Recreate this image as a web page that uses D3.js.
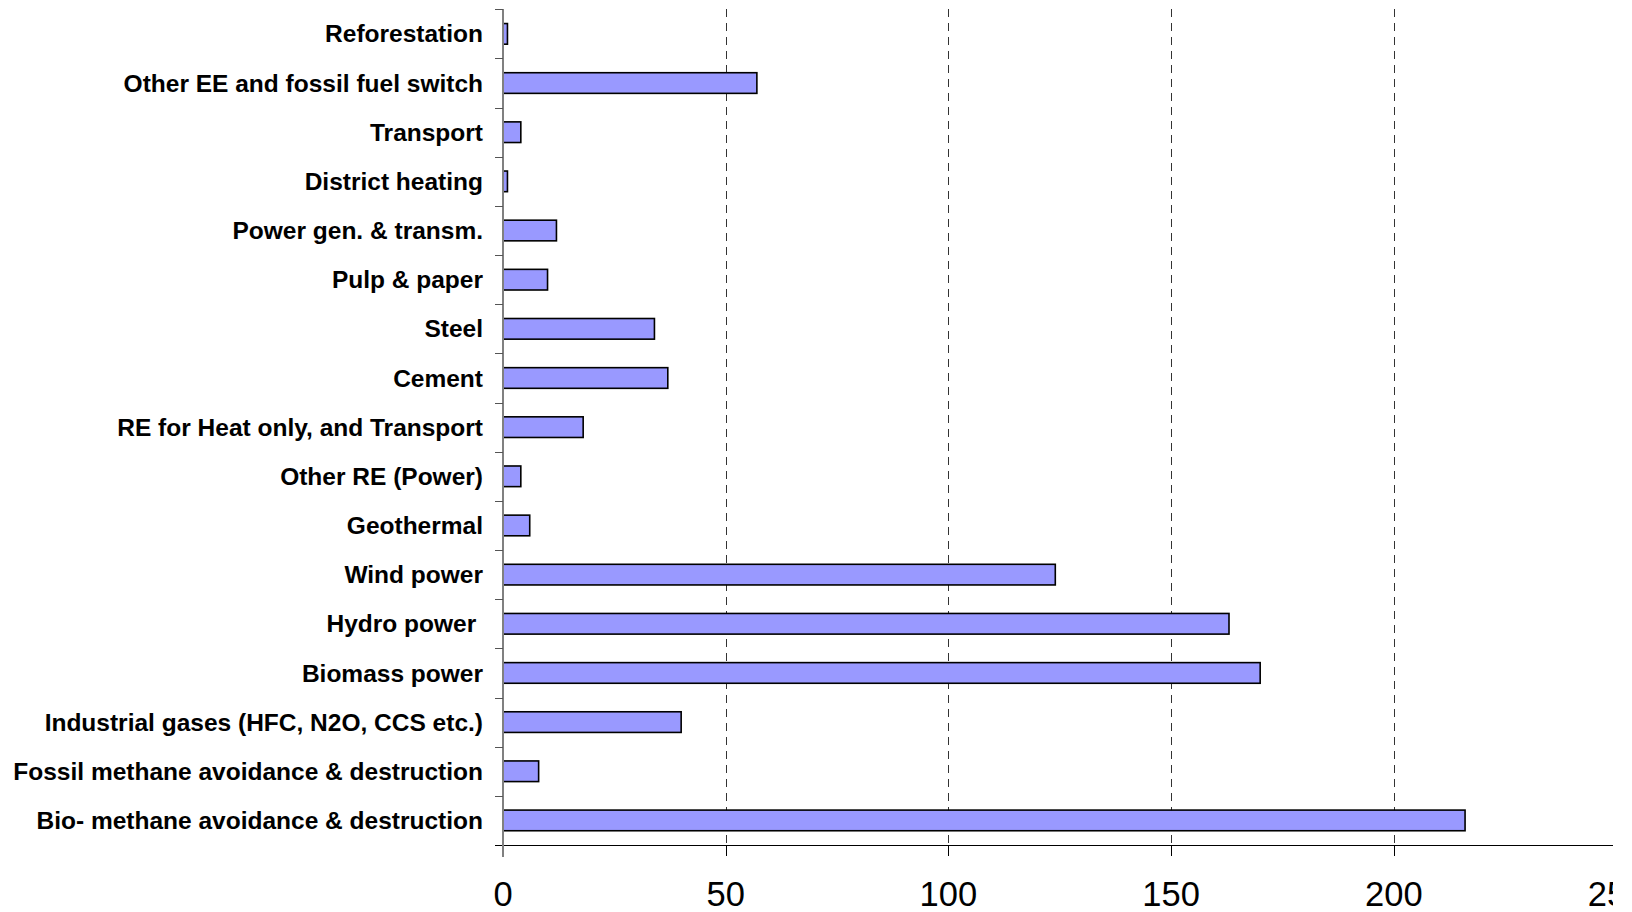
<!DOCTYPE html>
<html>
<head>
<meta charset="utf-8">
<script src="https://cdn.jsdelivr.net/npm/d3@7"></script>
<style>
  html, body { margin: 0; padding: 0; background: #fff; }
  svg { display: block; }
  .cat { font-family: "Liberation Sans", Arial, sans-serif; font-weight: bold; font-size: 24.5px; fill: #000; white-space: pre; }
  .tick-label { font-family: "Liberation Sans", Arial, sans-serif; font-size: 34.5px; fill: #000; }
</style>
</head>
<body>
<svg id="chart" width="1632" height="912"></svg>
<script>
// Project categories, top to bottom
const categories = [
  "Reforestation",
  "Other EE and fossil fuel switch",
  "Transport",
  "District heating",
  "Power gen. & transm.",
  "Pulp & paper",
  "Steel",
  "Cement",
  "RE for Heat only, and Transport",
  "Other RE (Power)",
  "Geothermal",
  "Wind power",
  "Hydro power ",
  "Biomass power",
  "Industrial gases (HFC, N2O, CCS etc.)",
  "Fossil methane avoidance & destruction",
  "Bio- methane avoidance & destruction"
];

// Value per category
const values = [1, 57, 4, 1, 12, 10, 34, 37, 18, 4, 6, 124, 163, 170, 40, 8, 216];

// X-axis ticks
const xTicks = [0, 50, 100, 150, 200, 250];

const svg = d3.select("#chart");

// The drawing area ends just past the last gridline; anything beyond is clipped
svg.append("defs").append("clipPath").attr("id", "plotClip")
  .append("rect").attr("x", 0).attr("y", 0).attr("width", 1613).attr("height", 912);

const root = svg.append("g").attr("clip-path", "url(#plotClip)");

const x = d3.scaleLinear().domain([0, 250]).range([503, 1616.5]);
const y = d3.scaleBand().domain(categories).range([9.3, 845]).paddingInner(0.58).paddingOuter(0.29);
const yStep = d3.scaleBand().domain(categories).range([9.3, 845]).padding(0);

// Dashed vertical gridlines
root.append("g")
  .selectAll("line")
  .data(xTicks.filter(d => d > 0 && d < 250))
  .join("line")
  .attr("x1", d => Math.round(x(d)) + 0.5)
  .attr("x2", d => Math.round(x(d)) + 0.5)
  .attr("y1", 9)
  .attr("y2", 845)
  .attr("stroke", "#333")
  .attr("stroke-width", 1)
  .attr("stroke-dasharray", "8,6");

// Bars
root.append("g")
  .selectAll("rect")
  .data(categories.map((c, i) => ({ c, v: values[i] })))
  .join("rect")
  .attr("x", x(0))
  .attr("y", d => y(d.c))
  .attr("width", d => x(d.v) - x(0))
  .attr("height", y.bandwidth())
  .attr("fill", "#9999FF")
  .attr("stroke", "#000")
  .attr("stroke-width", 1.6);

// X axis
const xAxis = root.append("g").attr("transform", "translate(0,845)");
xAxis.append("line")
  .attr("x1", 495).attr("x2", 1613)
  .attr("y1", 0.5).attr("y2", 0.5)
  .attr("stroke", "#000").attr("stroke-width", 1);
xAxis.selectAll("line.tk")
  .data(xTicks)
  .join("line")
  .attr("class", "tk")
  .attr("x1", d => Math.round(x(d)) + 0.5)
  .attr("x2", d => Math.round(x(d)) + 0.5)
  .attr("y1", 0).attr("y2", 11)
  .attr("stroke", "#000").attr("stroke-width", 1);
xAxis.selectAll("text")
  .data(xTicks)
  .join("text")
  .attr("class", "tick-label")
  .attr("x", d => x(d))
  .attr("y", 61)
  .attr("text-anchor", "middle")
  .text(d => d);

// Y axis
const yAxis = root.append("g");
yAxis.append("line")
  .attr("x1", 503).attr("x2", 503)
  .attr("y1", 9).attr("y2", 857)
  .attr("stroke", "#808080").attr("stroke-width", 2);
yAxis.selectAll("line.tk")
  .data(categories)
  .join("line")
  .attr("class", "tk")
  .attr("x1", 495).attr("x2", 503)
  .attr("y1", d => Math.round(yStep(d)) + 0.5)
  .attr("y2", d => Math.round(yStep(d)) + 0.5)
  .attr("stroke", "#555").attr("stroke-width", 1);
yAxis.selectAll("text")
  .data(categories)
  .join("text")
  .attr("class", "cat")
  .attr("x", 483)
  .attr("y", d => y(d) + y.bandwidth() / 2)
  .attr("dy", "0.35em")
  .attr("text-anchor", "end")
  .text(d => d);
</script>
</body>
</html>
